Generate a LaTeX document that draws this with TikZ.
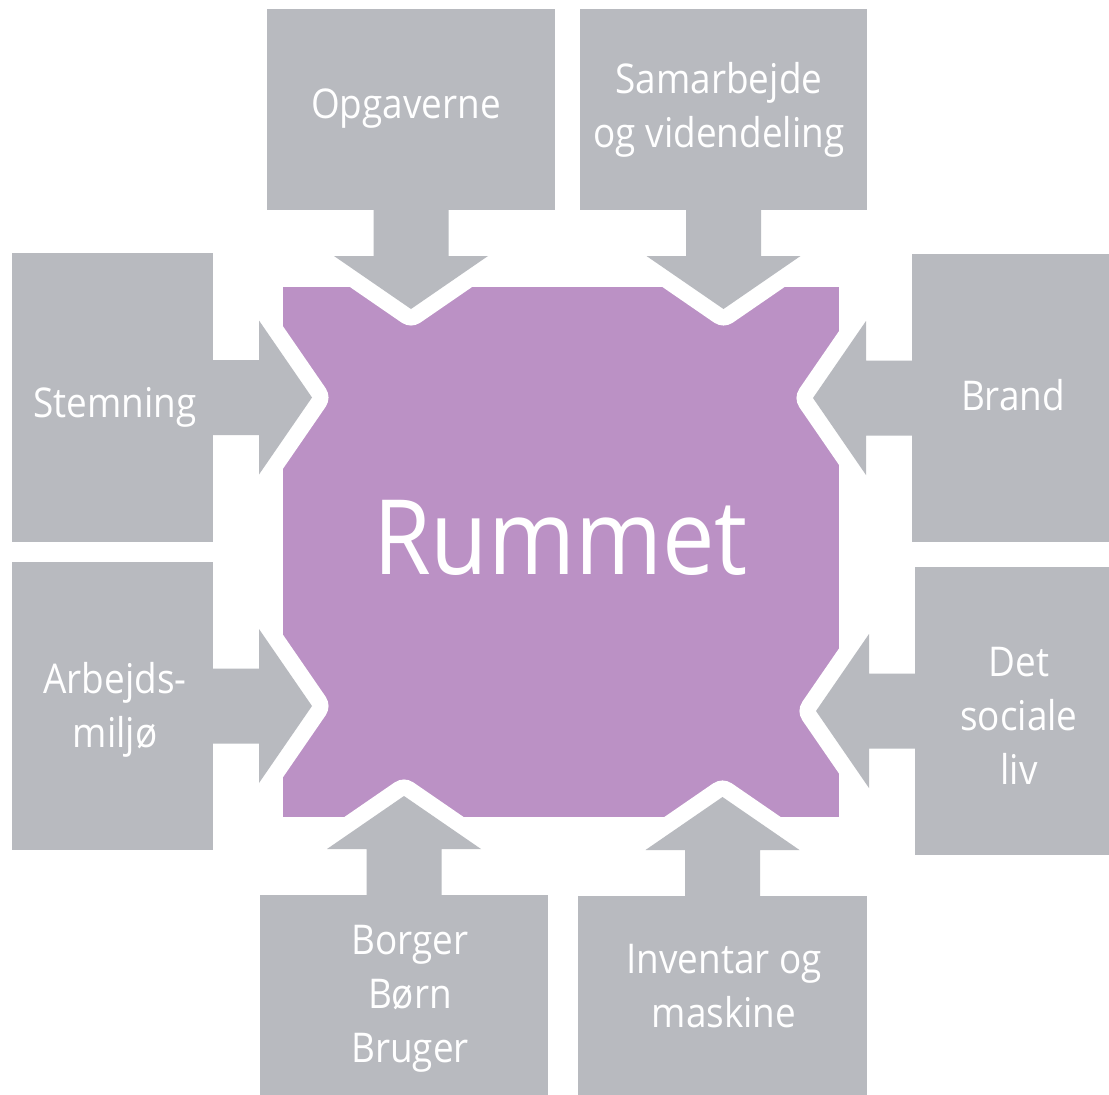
\documentclass[tikz,border=0pt]{standalone}
\usepackage{fontspec}
\setmainfont[FakeStretch=0.9]{Open Sans}
\usetikzlibrary{calc}
\definecolor{boxgray}{RGB}{184,186,191}
\definecolor{roompurple}{RGB}{187,145,197}
\pgfdeclarelayer{bg}
\pgfdeclarelayer{gap}
\pgfsetlayers{bg,gap,main}
\tikzset{
  box/.style={fill=boxgray, draw=none, inner sep=0pt, outer sep=0pt, minimum width=#1},
  lbl/.style={text=white, align=center, anchor=base, inner sep=0pt,
    font=\fontsize{41}{54}\selectfont},
  gapline/.style={draw=white, line width=33pt, line join=round},
  arrowfill/.style={fill=boxgray, draw=none},
}
% #1 node, #2 anchor, #3 dx, #4 dy (unit direction of the arrow)
\newcommand{\blockarrow}[4]{%
  \coordinate (#1-a1) at ($(#1.#2)+({-37.5*(#4)},{37.5*(#3)})$);
  \coordinate (#1-a2) at ($(#1.#2)+({46*(#3)-37.5*(#4)},{46*(#4)+37.5*(#3)})$);
  \coordinate (#1-a3) at ($(#1.#2)+({46*(#3)-77*(#4)},{46*(#4)+77*(#3)})$);
  \coordinate (#1-tip) at ($(#1.#2)+({99*(#3)},{99*(#4)})$);
  \coordinate (#1-a5) at ($(#1.#2)+({46*(#3)+77*(#4)},{46*(#4)-77*(#3)})$);
  \coordinate (#1-a6) at ($(#1.#2)+({46*(#3)+37.5*(#4)},{46*(#4)-37.5*(#3)})$);
  \coordinate (#1-a7) at ($(#1.#2)+({37.5*(#4)},{-37.5*(#3)})$);
  \begin{pgfonlayer}{gap}
    \path[gapline] (#1-a1) -- (#1-a2) -- (#1-a3) -- (#1-tip) -- (#1-a5) -- (#1-a6) -- (#1-a7) -- cycle;
  \end{pgfonlayer}
  \path[arrowfill] (#1-a1) -- (#1-a2) -- (#1-a3) -- (#1-tip) -- (#1-a5) -- (#1-a6) -- (#1-a7) -- cycle;
}
\begin{document}
\begin{tikzpicture}[x=1pt,y=-1pt]
\useasboundingbox (0,0) rectangle (1109,1095);
\begin{pgfonlayer}{bg}
  \fill[white] (0,0) rectangle (1109,1095);
  \node[fill=roompurple, inner sep=0pt, minimum width=556pt, minimum height=530pt] (room) at (561,552) {};
\end{pgfonlayer}
% boxes
\node[box=288pt, minimum height=201pt] (opg) at (411,109.5) {};
\node[box=287pt, minimum height=201pt] (sam) at (723.5,109.5) {};
\node[box=201pt, minimum height=289pt] (stm) at (112.5,397.5) {};
\node[box=201pt, minimum height=288pt] (arb) at (112.5,706) {};
\node[box=201pt, minimum height=288pt] (brd) at (1012.5,398) {};
\node[box=201pt, minimum height=288pt] (soc) at (1015.5,711) {};
\node[box=288pt, minimum height=201pt] (bor) at (404,995.5) {};
\node[box=289pt, minimum height=201pt] (inv) at (722.5,996.5) {};
% arrows
\blockarrow{opg}{south}{0}{1}
\blockarrow{sam}{south}{0}{1}
\blockarrow{stm}{east}{1}{0}
\blockarrow{arb}{east}{1}{0}
\blockarrow{brd}{west}{-1}{0}
\blockarrow{soc}{west}{-1}{0}
\blockarrow{bor}{north}{0}{-1}
\blockarrow{inv}{north}{0}{-1}
% labels (base anchor = baseline of the last line)
\node[lbl] (topg) at (406,118) {Opgaverne};
\node[lbl] (tsam) at (719,147) {Samarbejde\\og videndeling};
\node[lbl] (tstm) at (115,417) {Stemning};
\node[lbl] (tarb) at (115,747) {Arbejds-\\miljø};
\node[lbl] (tbrd) at (1013,410) {Brand};
\node[lbl] (tsoc) at (1019,784) {Det\\sociale\\liv};
\node[lbl] (tbor) at (410,1062) {Borger\\Børn\\Bruger};
\node[lbl] (tinv) at (724,1027) {Inventar og\\maskine};
\node[text=white, anchor=base, inner sep=0pt, font=\fontsize{104}{110}\selectfont] (troom) at (560.5,574) {Rummet};
\end{tikzpicture}
\end{document}
